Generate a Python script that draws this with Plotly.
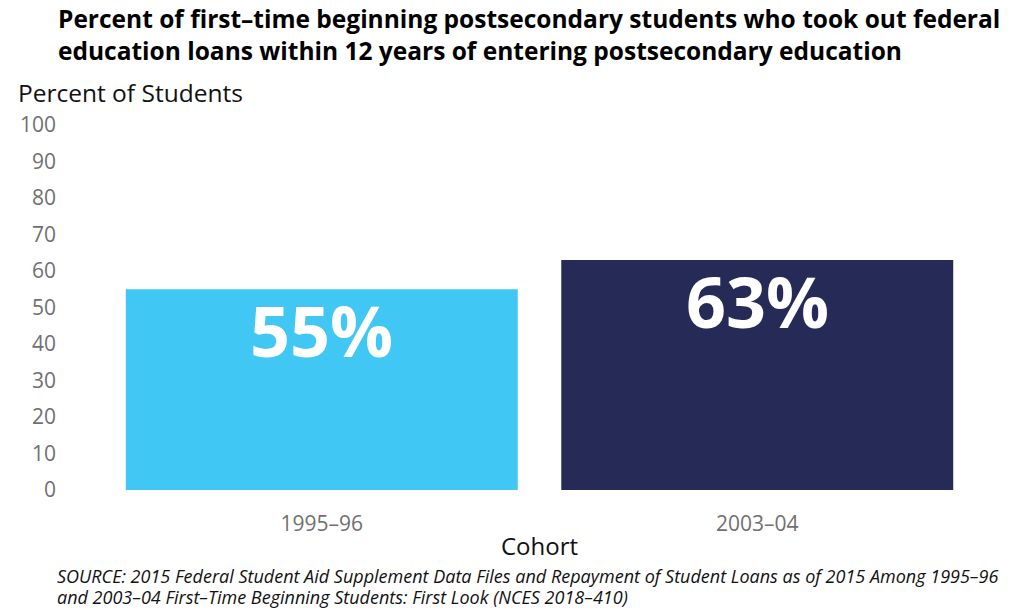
import plotly.graph_objects as go

# data
cohorts = ['1995\u201396', '2003\u201304']
pct_loans = [55, 63]
bar_labels = ['55%', '63%']
bar_colors = ['#40c7f4', '#252a56']

title_text = ('Percent of first\u2013time beginning postsecondary students who took out federal<br>'
              'education loans within 12 years of entering postsecondary education')
source_lines = ['SOURCE: 2015 Federal Student Aid Supplement Data Files and Repayment of Student Loans as of 2015 Among 1995\u201396',
                'and 2003\u201304 First\u2013Time Beginning Students: First Look (NCES 2018\u2013410)']

FONT = 'Open Sans'
W, H = 1016, 604   # page body has an 8px margin
ML, MR, MT, MB = 93, 49, 117, 122
PW = W - ML - MR
PH = H - MT - MB

fig = go.Figure()
fig.add_bar(x=cohorts, y=pct_loans, marker=dict(color=bar_colors, line=dict(width=0)),
            hoverinfo='x+y')

# big value labels inside the bars
for c, v, lab in zip(cohorts, pct_loans, bar_labels):
    fig.add_annotation(x=c, y=v, text='<b>' + lab + '</b>', showarrow=False,
                       yanchor='top', yshift=9,
                       font=dict(family=FONT, size=70, color='white'))

# title
fig.add_annotation(xref='paper', yref='paper', x=(45 - ML) / PW, y=1 + MT / PH, yshift=8,
                   xanchor='left', yanchor='top', align='left', showarrow=False,
                   text='<b>' + title_text + '</b>',
                   font=dict(family=FONT, size=24.5, color='#000000'))

fig.add_annotation(xref='paper', yref='paper', x=(5 - ML) / PW, y=1.0, yshift=14,
                   xanchor='left', yanchor='bottom', text='Percent of Students',
                   showarrow=False, font=dict(family=FONT, size=24.5, color='#111111'))

# source note, one annotation per line
for i, line in enumerate(source_lines):
    fig.add_annotation(xref='paper', yref='paper', x=(45 - ML) / PW, y=0, yshift=-86 - 21 * i,
                       xanchor='left', yanchor='middle', text='<i>' + line + '</i>',
                       align='left', showarrow=False, borderpad=0,
                       font=dict(family=FONT, size=18, color='#111111'))

fig.update_layout(
    width=W, height=H,
    margin=dict(l=ML, r=MR, t=MT, b=MB),
    paper_bgcolor='white', plot_bgcolor='white',
    bargap=0.1, showlegend=False,
    font=dict(family=FONT),
)
fig.update_yaxes(range=[0, 100], dtick=10, showgrid=False, zeroline=False,
                 showline=False, ticks='', ticklabelstandoff=47,
                 tickfont=dict(family=FONT, size=21, color='#707070'))
fig.update_xaxes(showgrid=False, showline=False, ticks='', ticklabelstandoff=19,
                 tickfont=dict(family=FONT, size=21, color='#707070'),
                 title=dict(text='Cohort', standoff=2,
                            font=dict(family=FONT, size=24, color='#111111')))

fig.write_html('out.html')
